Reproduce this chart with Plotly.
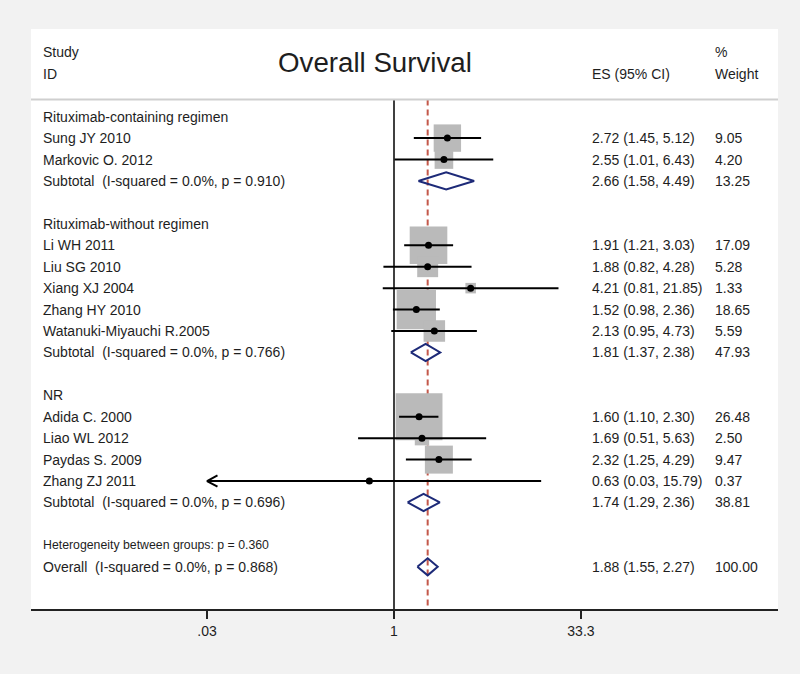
import math
import plotly.graph_objects as go

# ---------------- data ----------------
group_names = ["Rituximab-containing regimen", "Rituximab-without regimen", "NR"]
group_of_study = [0, 0, 1, 1, 1, 1, 1, 2, 2, 2, 2]
studies = ["Sung JY 2010", "Markovic O. 2012", "Li WH 2011", "Liu SG 2010", "Xiang XJ 2004",
           "Zhang HY 2010", "Watanuki-Miyauchi R.2005", "Adida C. 2000", "Liao WL 2012",
           "Paydas S. 2009", "Zhang ZJ 2011"]
es = [2.72, 2.55, 1.91, 1.88, 4.21, 1.52, 2.13, 1.60, 1.69, 2.32, 0.63]
ci_lo = [1.45, 1.01, 1.21, 0.82, 0.81, 0.98, 0.95, 1.10, 0.51, 1.25, 0.03]
ci_hi = [5.12, 6.43, 3.03, 4.28, 21.85, 2.36, 4.73, 2.30, 5.63, 4.29, 15.79]
ci_txt = ["2.72 (1.45, 5.12)", "2.55 (1.01, 6.43)", "1.91 (1.21, 3.03)", "1.88 (0.82, 4.28)",
          "4.21 (0.81, 21.85)", "1.52 (0.98, 2.36)", "2.13 (0.95, 4.73)", "1.60 (1.10, 2.30)",
          "1.69 (0.51, 5.63)", "2.32 (1.25, 4.29)", "0.63 (0.03, 15.79)"]
weights = [9.05, 4.20, 17.09, 5.28, 1.33, 18.65, 5.59, 26.48, 2.50, 9.47, 0.37]
weight_txt = ["9.05", "4.20", "17.09", "5.28", "1.33", "18.65", "5.59", "26.48", "2.50", "9.47", "0.37"]

sub_label = ["Subtotal\u00a0 (I-squared = 0.0%, p = 0.910)",
             "Subtotal\u00a0 (I-squared = 0.0%, p = 0.766)",
             "Subtotal\u00a0 (I-squared = 0.0%, p = 0.696)"]
sub_es = [2.66, 1.81, 1.74]
sub_lo = [1.58, 1.37, 1.29]
sub_hi = [4.49, 2.38, 2.36]
sub_txt = ["2.66 (1.58, 4.49)", "1.81 (1.37, 2.38)", "1.74 (1.29, 2.36)"]
sub_wt = ["13.25", "47.93", "38.81"]

het_label = "Heterogeneity between groups: p = 0.360"
overall_label = "Overall\u00a0 (I-squared = 0.0%, p = 0.868)"
overall_es, overall_lo, overall_hi = 1.88, 1.55, 2.27
overall_txt = "1.88 (1.55, 2.27)"
overall_wt = "100.00"

tick_vals = [0.03, 1, 33.3]
tick_text = [".03", "1", "33.3"]

# ---------------- layout of rows ----------------
FS = 14
rows_label = []   # (row, text, size)
study_row = []
sub_row = []
r = 0
for g in range(3):
    rows_label.append((r, group_names[g], FS)); r += 1
    for i, gi in enumerate(group_of_study):
        if gi == g:
            study_row.append(r); rows_label.append((r, studies[i], FS)); r += 1
    sub_row.append(r); rows_label.append((r, sub_label[g], FS)); r += 1
    r += 1
het_row = r; rows_label.append((r, het_label, 12.3)); r += 1
overall_row = r; rows_label.append((r, overall_label, FS))

Y_TOP, Y_BOT = -4.09, 22.97
HEADER_LINE = -0.8
clip_lo = 1 / 33.3
clip_hi = 33.3

FONT = "Liberation Sans, Arial, sans-serif"
TXT = "#1e1e1e"
NAVY = "#1d2a78"

fig = go.Figure()

# vertical reference lines (drawn first, under boxes)
fig.add_trace(go.Scatter(x=[1, 1], y=[HEADER_LINE, Y_BOT], mode="lines",
                         line=dict(color="black", width=1.5), hoverinfo="skip", showlegend=False))
fig.add_trace(go.Scatter(x=[overall_es, overall_es], y=[HEADER_LINE, Y_BOT], mode="lines",
                         line=dict(color="#c4584a", width=2, dash="6px,4px"),
                         hoverinfo="skip", showlegend=False))

# grey boxes (weights)
fig.add_trace(go.Scatter(
    x=es, y=study_row, mode="markers",
    marker=dict(symbol="square", size=[9.1 * math.sqrt(w) for w in weights],
                color="#bababa", opacity=1, line=dict(width=0)),
    hoverinfo="skip", showlegend=False))

# CI lines
cx, cy = [], []
for i in range(len(es)):
    cx += [max(ci_lo[i], clip_lo), min(ci_hi[i], clip_hi), None]
    cy += [study_row[i], study_row[i], None]
fig.add_trace(go.Scatter(x=cx, y=cy, mode="lines", line=dict(color="black", width=2),
                         hoverinfo="skip", showlegend=False))

# arrows for clipped CIs
ax_, ay_ = [], []
for i in range(len(es)):
    if ci_lo[i] < clip_lo:
        ax_ += [clip_lo * 10 ** 0.085, clip_lo, clip_lo * 10 ** 0.085, None]
        ay_ += [study_row[i] - 0.26, study_row[i], study_row[i] + 0.26, None]
fig.add_trace(go.Scatter(x=ax_, y=ay_, mode="lines", line=dict(color="black", width=2),
                         hoverinfo="skip", showlegend=False))

# point estimates
fig.add_trace(go.Scatter(x=es, y=study_row, mode="markers",
                         marker=dict(color="black", size=7, opacity=1),
                         hoverinfo="skip", showlegend=False))

# diamonds
dx, dy = [], []
H = 0.4
for e, lo, hi, rr in list(zip(sub_es, sub_lo, sub_hi, sub_row)) + [(overall_es, overall_lo, overall_hi, overall_row)]:
    dx += [lo, e, hi, e, lo, None]
    dy += [rr, rr - H, rr, rr + H, rr, None]
fig.add_trace(go.Scatter(x=dx, y=dy, mode="lines", line=dict(color=NAVY, width=2),
                         hoverinfo="skip", showlegend=False))

# header separator
fig.add_shape(type="line", xref="paper", yref="y", x0=0, x1=1, y0=HEADER_LINE, y1=HEADER_LINE,
              line=dict(color="#cfcfcf", width=2))

# text
X_LEFT, X_ES, X_WT = 0.0134, 0.748, 0.913
ann = []
def add_text(x, y, t, size=FS, anchor="left"):
    ann.append(dict(x=x, y=y, xref="paper", yref="y", text=t, showarrow=False,
                    xanchor=anchor, yanchor="middle", font=dict(family=FONT, size=size, color=TXT)))

for rr, t, s in rows_label:
    add_text(X_LEFT, rr, t, s)
for i in range(len(es)):
    add_text(X_ES, study_row[i], ci_txt[i])
    add_text(X_WT, study_row[i], weight_txt[i])
for g in range(3):
    add_text(X_ES, sub_row[g], sub_txt[g])
    add_text(X_WT, sub_row[g], sub_wt[g])
add_text(X_ES, overall_row, overall_txt)
add_text(X_WT, overall_row, overall_wt)

# header
add_text(X_LEFT, -3.02, "Study")
add_text(X_LEFT, -2.0, "ID")
add_text(X_ES, -2.0, "ES (95% CI)")
add_text(X_WT, -3.02, "%")
add_text(X_WT, -2.0, "Weight")
add_text(0.4605, -2.55, "Overall Survival", 27.7, "center")

fig.update_layout(
    width=800, height=674,
    margin=dict(l=31, r=22, t=29, b=65),
    paper_bgcolor="#f2f2f2", plot_bgcolor="white",
    annotations=ann,
    xaxis=dict(type="log", range=[-2.956, 3.127], showgrid=False, zeroline=False,
               tickvals=tick_vals, ticktext=tick_text, ticks="outside", ticklen=8,
               tickwidth=1.5, tickcolor="#222", showline=True, linewidth=2, linecolor="#222",
               tickfont=dict(family=FONT, size=14, color=TXT), fixedrange=True),
    yaxis=dict(range=[Y_BOT, Y_TOP], visible=False, showgrid=False, zeroline=False, fixedrange=True),
)

fig.write_html("out.html", config={"displayModeBar": False, "staticPlot": True},
               post_script="document.body.style.margin='0';document.body.style.background='#f2f2f2';")
